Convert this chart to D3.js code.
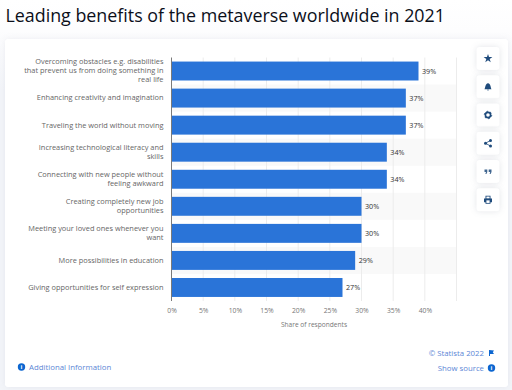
<!DOCTYPE html>
<html>
<head>
<meta charset="utf-8">
<script src="https://cdnjs.cloudflare.com/ajax/libs/d3/7.8.5/d3.min.js"></script>
<style>
html, body { margin: 0; padding: 0; overflow: hidden; background: linear-gradient(#ffffff 0, #fdfdfe 30px, #f3f5f9 90px); height: 390px; }
text { font-family: "Open Sans", sans-serif; }
</style>
</head>
<body>
<div id="chart"></div>
<script>
const categories = [
    ["Overcoming obstacles e.g. disabilities", "that prevent us from doing something in", "real life"],
    ["Enhancing creativity and imagination"],
    ["Traveling the world without moving"],
    ["Increasing technological literacy and", "skills"],
    ["Connecting with new people without", "feeling awkward"],
    ["Creating completely new job", "opportunities"],
    ["Meeting your loved ones whenever you", "want"],
    ["More possibilities in education"],
    ["Giving opportunities for self expression"]
];
const shares = [39, 37, 37, 34, 34, 30, 30, 29, 27];
const xTicks = [0, 5, 10, 15, 20, 25, 30, 35, 40];

let svg = d3.select("#chart")
            .append("svg")
                .attr("width", 512)
                .attr("height", 390)
                .style("display", "block");

// page title
svg.append("text")
    .attr("x", 5.5)
    .attr("y", 22)
    .style("font-size", "17.85px")
    .style("fill", "#0b0f1a")
    .text("Leading benefits of the metaverse worldwide in 2021");

// white card
svg.append("rect")
    .attr("x", 5)
    .attr("y", 39)
    .attr("width", 503)
    .attr("height", 348)
    .attr("rx", 3)
    .attr("fill", "#ffffff")
    .style("filter", "drop-shadow(0 0 3px rgba(60,70,100,0.08))");

let x = d3.scaleLinear()
            .domain([0, 45])
            .range([171.5, 456.5]);

let y = d3.scaleBand()
            .domain(d3.range(categories.length))
            .range([57.5, 301])
            .paddingInner(0.3)
            .paddingOuter(0.15);

// alternate row shading
svg.selectAll("rect.stripe")
    .data(d3.range(categories.length).filter(i => i % 2 == 1))
    .join("rect")
    .attr("class", "stripe")
    .attr("x", x(0))
    .attr("y", i => y(i) - y.step() * 0.15)
    .attr("width", x(45) - x(0))
    .attr("height", y.step())
    .attr("fill", "#f9f9f9");

// grid lines
svg.selectAll("line.grid")
    .data(xTicks.slice(1).concat([45]))
    .join("line")
    .attr("class", "grid")
    .attr("x1", d => x(d))
    .attr("x2", d => x(d))
    .attr("y1", 57.5)
    .attr("y2", 301)
    .attr("stroke", "#ececec");

// bars
svg.selectAll("rect.bar")
    .data(shares)
    .join("rect")
    .attr("class", "bar")
    .attr("x", x(0))
    .attr("y", (d, i) => y(i))
    .attr("width", d => x(d) - x(0))
    .attr("height", y.bandwidth())
    .attr("fill", "#2a74d8");

// value labels
svg.selectAll("text.val")
    .data(shares)
    .join("text")
    .attr("class", "val")
    .attr("x", d => x(d) + 3.5)
    .attr("y", (d, i) => y(i) + y.bandwidth() / 2)
    .attr("dy", "0.35em")
    .style("font-size", "7.2px")
    .style("fill", "#333333")
    .text(d => d + "%");

// y axis line
svg.append("line")
    .attr("x1", x(0))
    .attr("x2", x(0))
    .attr("y1", 57.5)
    .attr("y2", 301)
    .attr("stroke", "#7a7a7a");

// category labels
let cats = svg.selectAll("text.cat")
    .data(categories)
    .join("text")
    .attr("class", "cat")
    .attr("text-anchor", "end")
    .style("font-size", "7.4px")
    .style("fill", "#666666");

cats.selectAll("tspan")
    .data((d, i) => d.map((line, k) => ({line: line, k: k, n: d.length, i: i})))
    .join("tspan")
    .attr("x", 163.5)
    .attr("y", d => y(d.i) + y.bandwidth() / 2 + (d.k - (d.n - 1) / 2) * 9 + 2.4)
    .text(d => d.line);

// x axis
let xAxis = svg.append("g")
    .attr("transform", "translate(0,301)")
    .call(d3.axisBottom(x).tickValues(xTicks).tickFormat(d => d + "%").tickSize(0).tickPadding(7));
xAxis.select(".domain").remove();
xAxis.selectAll("text")
    .style("font-family", "\"Open Sans\", sans-serif")
    .style("font-size", "6.8px")
    .style("fill", "#777777");

svg.append("text")
    .attr("x", x(0) + (x(45) - x(0)) / 2)
    .attr("y", 327)
    .attr("text-anchor", "middle")
    .style("font-size", "6.6px")
    .style("fill", "#777777")
    .text("Share of respondents");

// side buttons
const buttonNames = ["star", "bell", "gear", "share", "quote", "print"];
const iconColor = "#1f4b7c";
let buttons = svg.selectAll("g.btn")
    .data(buttonNames)
    .join("g")
    .attr("class", "btn")
    .attr("transform", (d, i) => "translate(488," + (58.5 + i * 28.25) + ")");

buttons.append("rect")
    .attr("x", -11.5)
    .attr("y", -11.5)
    .attr("width", 23)
    .attr("height", 23)
    .attr("rx", 3)
    .attr("fill", "#ffffff")
    .style("filter", "drop-shadow(0 0 3px rgba(60,70,100,0.14))");

buttons.filter(d => d == "star").append("path")
    .attr("d", d3.symbol(d3.symbolStar, 24)())
    .attr("fill", iconColor);

buttons.filter(d => d == "bell").append("path")
    .attr("d", "M-3.5,2.5 C-2.5,1 -3,-3 0,-3.5 C3,-3 2.5,1 3.5,2.5 Z M-1,3 L1,3 L0,4 Z")
    .attr("fill", iconColor);

let gear = buttons.filter(d => d == "gear");
gear.append("circle")
    .attr("r", 2.6)
    .attr("fill", "none")
    .attr("stroke", iconColor)
    .attr("stroke-width", 1.6);
gear.append("circle")
    .attr("r", 3.7)
    .attr("fill", "none")
    .attr("stroke", iconColor)
    .attr("stroke-width", 1)
    .attr("stroke-dasharray", "1.6 2.27");

let share = buttons.filter(d => d == "share");
share.append("path")
    .attr("d", "M2.5,-2.8 L-2.5,0 L2.5,2.8")
    .attr("fill", "none")
    .attr("stroke", iconColor)
    .attr("stroke-width", 0.8);
share.selectAll("circle")
    .data([[2.5, -2.8], [-2.5, 0], [2.5, 2.8]])
    .join("circle")
    .attr("cx", d => d[0])
    .attr("cy", d => d[1])
    .attr("r", 1.5)
    .attr("fill", iconColor);

buttons.filter(d => d == "quote").append("path")
    .attr("d", "M-3.5,-2 L-0.7,-2 L-0.7,0.5 L-1.6,2.5 L-2.6,2.5 L-2,0.5 L-3.5,0.5 Z M0.7,-2 L3.5,-2 L3.5,0.5 L2.6,2.5 L1.6,2.5 L2.2,0.5 L0.7,0.5 Z")
    .attr("fill", iconColor)
    .attr("opacity", 0.85);

let printer = buttons.filter(d => d == "print");
printer.append("path")
    .attr("d", "M-2.5,-1.2 L-2.5,-4 L2.5,-4 L2.5,-1.2 L4,-1.2 L4,2.5 L2.5,2.5 L2.5,4 L-2.5,4 L-2.5,2.5 L-4,2.5 L-4,-1.2 Z")
    .attr("fill", iconColor);
printer.append("rect")
    .attr("x", -1.6).attr("y", 0.6).attr("width", 3.2).attr("height", 2.6)
    .attr("fill", "#ffffff");
printer.append("rect")
    .attr("x", -1.6).attr("y", -3.2).attr("width", 3.2).attr("height", 1.8)
    .attr("fill", "#ffffff");

// footer links
function infoIcon(cx, cy) {
    svg.append("circle").attr("cx", cx).attr("cy", cy).attr("r", 3.7).attr("fill", "#0c66d0");
    svg.append("text")
        .attr("x", cx).attr("y", cy + 2.2)
        .attr("text-anchor", "middle")
        .style("font-size", "6px").style("font-weight", "700").style("fill", "#ffffff")
        .text("i");
}

infoIcon(21.5, 367);
svg.append("text")
    .attr("x", 29).attr("y", 370)
    .style("font-size", "7.8px").style("fill", "#5b86d6")
    .text("Additional Information");

svg.append("text")
    .attr("x", 484).attr("y", 355.5)
    .attr("text-anchor", "end")
    .style("font-size", "7.8px").style("fill", "#5b86d6")
    .text("© Statista 2022");
svg.append("text")
    .attr("x", 484).attr("y", 371)
    .attr("text-anchor", "end")
    .style("font-size", "7.8px").style("fill", "#5b86d6")
    .text("Show source");
infoIcon(491.5, 368);

svg.append("path")
    .attr("d", "M489,350 L494,350.5 L492.8,352.3 L494,354 L490,354 L490,356 L489,356 Z")
    .attr("fill", "#0c66d0");
</script>
</body>
</html>
